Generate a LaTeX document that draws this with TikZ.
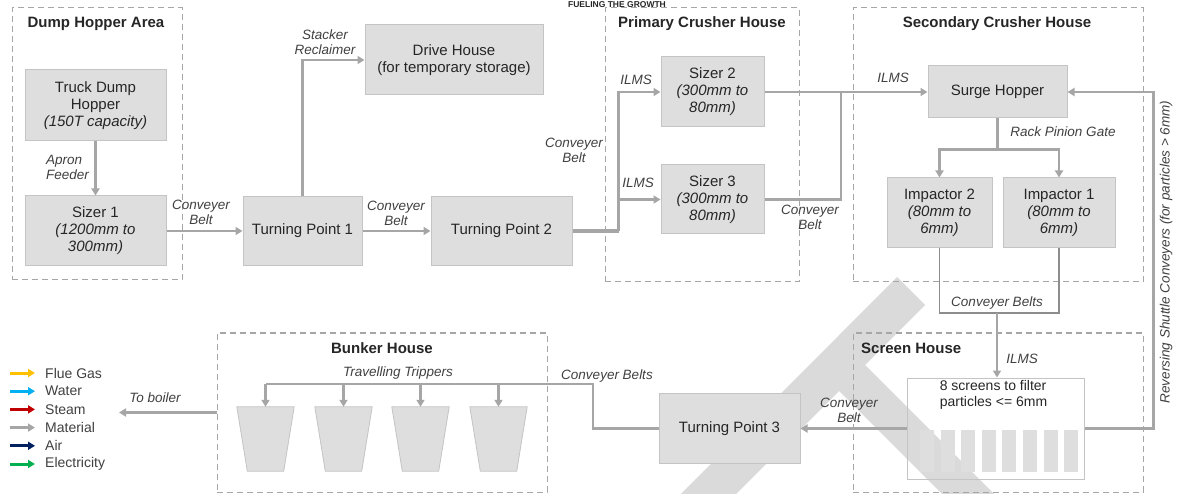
\documentclass[tikz,border=0pt]{standalone}
\usepackage{fontspec}
\setsansfont{Liberation Sans}
\usetikzlibrary{arrows.meta,positioning}
\definecolor{boxfill}{HTML}{DEDEDE}
\definecolor{boxline}{HTML}{C4C4C4}
\definecolor{flowgray}{HTML}{A6A6A6}
\definecolor{txtdark}{HTML}{262626}
\definecolor{txtlbl}{HTML}{404040}
\definecolor{wmark}{HTML}{DADADA}
\definecolor{fluegas}{HTML}{FFC000}
\definecolor{water}{HTML}{00B0F0}
\definecolor{steam}{HTML}{C00000}
\definecolor{air}{HTML}{002060}
\definecolor{elec}{HTML}{00B050}

\begin{document}
\begin{tikzpicture}[
  x=1pt, y=-1pt,
  font=\sffamily,
  >={Triangle[length=7pt,width=8pt]},
  dims/.style 2 args={minimum width=#1pt, minimum height=#2pt},
  block/.style={rectangle, draw=boxline, fill=boxfill, line width=1pt, inner sep=0pt, align=center, text=txtdark, font=\sffamily\fontsize{15}{17}\selectfont},
  area/.style={rectangle, draw=flowgray, dash pattern=on 6pt off 4pt, line width=1pt, inner sep=0pt},
  areatitle/.style={font=\sffamily\bfseries\fontsize{15}{17}\selectfont, text=txtdark, inner sep=0pt},
  lbl/.style={font=\sffamily\itshape\fontsize{13.5}{15}\selectfont, text=txtlbl, align=center, inner sep=0pt},
  legendtxt/.style={font=\sffamily\fontsize{14}{16}\selectfont, text=txtlbl, inner sep=0pt, anchor=west},
  screen/.style={rectangle, fill=boxfill, draw=none, dims={14}{42}},
  bunkerbox/.style={rectangle, draw=none, inner sep=0pt, dims={57}{64}},
  bunkerfill/.style={draw=boxline, fill=boxfill, line width=0.8pt},
  flowline/.style={draw=flowgray, line width=2.2pt},
  flow/.style={->, flowline},
  bigline/.style={draw=flowgray, line width=3.2pt},
  collectline/.style={draw=flowgray!85!black, line width=1.6pt}
]
\useasboundingbox (0,0) rectangle (1178,494);
% watermark behind everything
\fill[wmark] (897,277) -- (925,305) -- (865,365) -- (1020,520) -- (968,520) -- (839,391) -- (710,520) -- (655,520) -- cycle;
\node[font=\sffamily\bfseries\fontsize{8.5}{9}\selectfont, text=txtdark, inner sep=0pt] (motto) at (617,4.5) {FUELING THE GROWTH};

% areas
\node[area, dims={170}{272}] (dumparea) at (97,144) {};
\node[area, dims={194}{274}] (primary) at (702,145) {};
\node[area, dims={290}{274}] (secondary) at (998,145) {};
\node[area, dims={290}{159}] (screenhouse) at (998,412.5) {};
\node[area, dims={330}{159}] (bunkerhouse) at (382,412.5) {};
\node[areatitle] (dumptitle) at (96,24) {Dump Hopper Area};
\node[areatitle] (primtitle) at (702,24) {Primary Crusher House};
\node[areatitle] (sectitle) at (997,24) {Secondary Crusher House};
\node[areatitle, anchor=west] (scrtitle) at (861,348) {Screen House};
\node[areatitle] (bunktitle) at (382,348) {Bunker House};

% blocks
\node[block, dims={141}{71}] (truck) at (95.5,105.5) {Truck Dump\\Hopper\\\textit{(150T capacity)}};
\node[block, dims={141}{70}, below=54pt of truck] (sizer1) {Sizer 1\\\textit{(1200mm to}\\\textit{300mm)}};
\node[block, dims={119}{69}, right=76pt of sizer1] (tp1) {Turning Point 1};
\node[block, dims={141}{69}, right=68pt of tp1] (tp2) {Turning Point 2};
\node[block, dims={178}{70}] (drive) at (454,60) {Drive House\\(for temporary storage)};
\node[block, dims={103}{70}] (sizer2) at (712.5,92) {Sizer 2\\\textit{(300mm to}\\\textit{80mm)}};
\node[block, dims={103}{69}, below=37pt of sizer2] (sizer3) {Sizer 3\\\textit{(300mm to}\\\textit{80mm)}};
\node[block, dims={139}{52}] (surge) at (997.5,92) {Surge Hopper};
\node[block, dims={105}{70}] (imp2) at (939.5,213) {Impactor 2\\\textit{(80mm to}\\\textit{6mm)}};
\node[block, dims={112}{70}, right=10pt of imp2] (imp1) {Impactor 1\\\textit{(80mm to}\\\textit{6mm)}};
\node[block, fill=none, dims={177}{101}] (screens) at (995.5,428.5) {};
\node[lbl, font=\sffamily\fontsize{14}{15.5}\selectfont, text=txtdark, align=left, anchor=north] (screentxt) at ([xshift=-2pt,yshift=-3pt]screens.north) {8 screens to filter\\particles <= 6mm};
\foreach \i in {0,...,7}
  \node[screen] (scr\i) at (927+\i*20.6,451) {};
\node[block, dims={141}{70}] (tp3) at (729.5,428.5) {Turning Point 3};
\foreach \i/\x in {1/265.5,2/343.5,3/420.5,4/498.5} {
  \node[bunkerbox] (bk\i) at (\x,439) {};
  \path[bunkerfill] (bk\i.north west) -- (bk\i.north east) -- ([xshift=-10.5pt]bk\i.south east) -- ([xshift=10.5pt]bk\i.south west) -- cycle;
}

% connectors
\draw[flow] (truck) -- (sizer1);
\draw[flow] (sizer1) -- (tp1);
\draw[flow] (tp1.north) |- (drive.west);
\draw[flow] (tp1) -- (tp2);
\draw[bigline] (tp2.east) -- ++(46,0) coordinate (split);
\draw[flow] (split) |- (sizer2.west);
\draw[flow] (split) |- (sizer3.west);
\draw[flow] (sizer2) -- (surge);
\coordinate (merge) at (841,92);
\draw[flowline] (sizer3.east) -| (merge);
\draw[flowline] (surge.south) -- ++(0,31) coordinate (gate);
\draw[flow] (gate) -| (imp2.north);
\draw[flow] (gate) -| (imp1.north);
\coordinate (collect) at (997,313);
\draw[collectline] (imp2.south) |- (collect) -| (imp1.south);
\draw[flow] (collect) -- (collect |- screens.north);
\draw[flow] (screens.east) -- ++(69,0) |- (surge.east);
\draw[flow] (screens.west) -- (tp3.east);
\coordinate (trip) at (265.5,384);
\coordinate (tbend) at (593,384);
\draw[flowline] (tp3.west) -| (tbend) -- (trip);
\foreach \i in {1,...,4}
  \draw[flow] (bk\i.north |- trip) -- (bk\i.north);
\coordinate (boiler) at (119,412.5);
\draw[flow] (bunkerhouse.west) -- (boiler);

% labels
\node[lbl, align=left, anchor=west] (apron) at (46,167) {Apron\\Feeder};
\node[lbl] (cb1) at (201,212) {Conveyer\\Belt};
\node[lbl] (stacker) at (325,42) {Stacker\\Reclaimer};
\node[lbl] (cb2) at (396,213) {Conveyer\\Belt};
\node[lbl] (cb3) at (574,150) {Conveyer\\Belt};
\node[lbl] (ilms1) at (636,80) {ILMS};
\node[lbl] (ilms2) at (638,183) {ILMS};
\node[lbl] (ilms3) at (893,78) {ILMS};
\node[lbl] (cb4) at (810,217) {Conveyer\\Belt};
\node[lbl] (rack) at (1063,132) {Rack Pinion Gate};
\node[lbl] (cbs1) at (997,303) {Conveyer Belts};
\node[lbl] (ilms4) at (1022,359) {ILMS};
\node[lbl] (cb5) at (849,410) {Conveyer\\Belt};
\node[lbl] (cbs2) at (607,376) {Conveyer Belts};
\node[lbl] (trippers) at (398,373) {Travelling Trippers};
\node[lbl] (toboiler) at (155,398) {To boiler};
\node[lbl, rotate=90] (shuttle) at (1166,252) {Reversing Shuttle Conveyers\ (for particles > 6mm)};

% legend
\foreach \c/\t [count=\k from 0] in {fluegas/Flue Gas, water/Water, steam/Steam, flowgray/Material, air/Air, elec/Electricity} {
  \coordinate (lg\k) at (10,373+18.2*\k);
  \node[legendtxt] (lgt\k) at (45,373+18.2*\k) {\t};
  \draw[->, draw=\c, line width=3pt, >={Triangle[length=7pt,width=8pt]}] (lg\k) -- ([xshift=-10pt]lgt\k.west);
}
\end{tikzpicture}
\end{document}
